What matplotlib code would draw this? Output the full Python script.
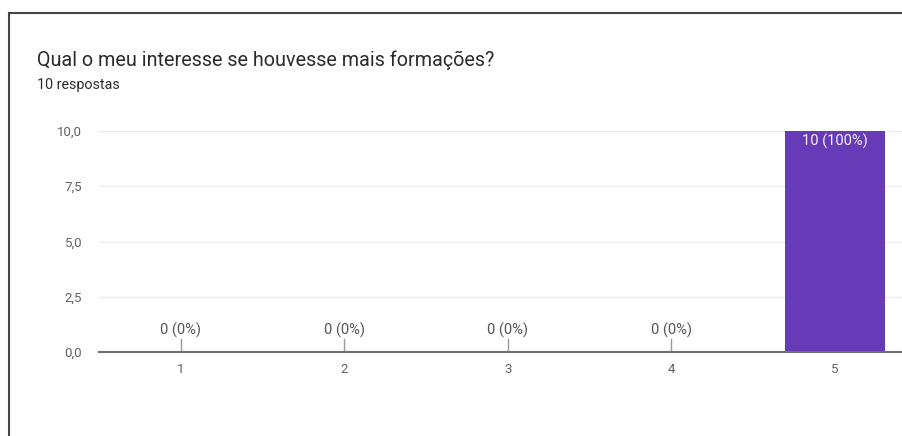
import matplotlib.pyplot as plt
from matplotlib.lines import Line2D

categories = ['1', '2', '3', '4', '5']
counts = [0, 0, 0, 0, 10]
labels = ['0 (0%)', '0 (0%)', '0 (0%)', '0 (0%)', '10 (100%)']
yticks = [0, 2.5, 5, 7.5, 10]
ytick_labels = ['0,0', '2,5', '5,0', '7,5', '10,0']

plt.rcParams['font.family'] = ['Roboto', 'DejaVu Sans']

W, H = 903, 436
fig = plt.figure(figsize=(W / 100, H / 100), dpi=100)

# outer card border (only top and left visible in the crop)
fig.add_artist(Line2D([9 / W, 1], [1 - 13 / H, 1 - 13 / H], color='#444444', lw=1.5))
fig.add_artist(Line2D([9 / W, 9 / W], [0, 1 - 13 / H], color='#444444', lw=1.5))

fig.text(37 / W, 1 - 60 / H, 'Qual o meu interesse se houvesse mais formações?',
         fontsize=14.2, color='#2b2b2b', va='center')
fig.text(37 / W, 1 - 85 / H, '10 respostas', fontsize=10.3, color='#2b2b2b', va='center')

left, right = 99, 903
top, bottom = 131, 352
ax = fig.add_axes([left / W, 1 - bottom / H, (right - left) / W, (bottom - top) / H])

x = list(range(1, len(categories) + 1))
ax.bar(x, counts, width=0.61, color='#673ab7', zorder=3)

ax.set_xlim(0.5, 0.5 + (right - left) / 163.5)
ax.set_ylim(0, 10)
ax.set_yticks(yticks)
ax.set_yticklabels(ytick_labels)
ax.set_xticks(x)
ax.set_xticklabels(categories)
ax.tick_params(axis='both', length=0, labelsize=9.5, colors='#606060')
ax.tick_params(axis='y', pad=12)
ax.tick_params(axis='x', pad=8)
ax.grid(axis='y', color='#ededed', lw=1, zorder=0)
for s in ['top', 'right', 'left']:
    ax.spines[s].set_visible(False)
ax.spines['bottom'].set_color('#707070')
ax.spines['bottom'].set_linewidth(1.5)
ax.spines['bottom'].set_zorder(4)

for xi, c, lab in zip(x, counts, labels):
    if c == 0:
        ax.plot([xi, xi], [0, 0.6], color='#9a9a9a', lw=1, zorder=2)
        ax.text(xi, 0.98, lab, ha='center', va='center', fontsize=10.5, color='#555555')
    else:
        ax.text(xi, c - 0.45, lab, ha='center', va='center', fontsize=10.5, color='#f4f0fa', zorder=5)

fig.savefig('out.png', dpi=100)
